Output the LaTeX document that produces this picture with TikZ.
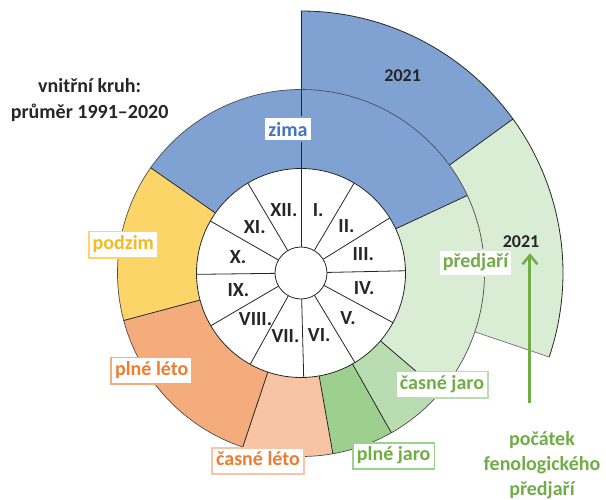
\documentclass[tikz,border=0pt]{standalone}
\usepackage{fontspec}
\setmainfont{Carlito}
\usepackage{tikz}
\usetikzlibrary{arrows.meta}
\definecolor{zimaBg}{HTML}{7FA2D3}
\definecolor{zimaText}{HTML}{4472C4}
\definecolor{podzimBg}{HTML}{FCD569}
\definecolor{podzimText}{HTML}{F7BA1E}
\definecolor{plneLetoBg}{HTML}{F4AC7C}
\definecolor{casneLetoBg}{HTML}{F8C5A4}
\definecolor{letoText}{HTML}{ED7D31}
\definecolor{plneJaroBg}{HTML}{9DCF8E}
\definecolor{casneJaroBg}{HTML}{B9DDB0}
\definecolor{predjariBg}{HTML}{D9ECD4}
\definecolor{jaroText}{HTML}{70AD47}
\tikzset{
  hranice/.style={draw=black!85, line width=0.8pt},
  obrys/.style={draw=black!70, line width=0.7pt},
  mesic/.style={font=\bfseries\fontsize{20}{24}\selectfont, text=black!85, inner sep=0pt},
  rok/.style={font=\bfseries\fontsize{18}{22}\selectfont, text=black!85},
  popis/.style 2 args={fill=white, draw=#1, text=#2, line width=1.8pt, font=\bfseries\fontsize{20}{24}\selectfont, inner xsep=4pt, inner ysep=4pt, text height=14pt, text depth=4.5pt},
  sipka/.style={-{Straight Barb[length=9pt,width=15pt,line width=2.5pt]}, line width=3pt, draw=jaroText},
}
\newcommand{\vysec}[5]{\fill[#1] (#2:#4pt) -- (#2:#5pt) arc[start angle=#2, end angle=#3, radius=#5pt] -- (#3:#4pt) arc[start angle=#3, end angle=#2, radius=#4pt] -- cycle;}

\begin{document}
\begin{tikzpicture}[x=1pt,y=1pt]
\useasboundingbox (-301,-226) rectangle (305,273);

% rok 2021
\vysec{zimaBg}{90}{36}{183.5}{262}
\vysec{predjariBg}{36}{-18.7}{183.5}{262}
\draw[hranice] (90:262pt) arc[start angle=90, end angle=-18.7, radius=262pt];
\draw[hranice] (36:183.5pt) -- (36:262pt);
\draw[obrys, draw=black!55] (-18.7:183.5pt) -- (-18.7:262pt);
\draw[hranice] (90:183.5pt) -- (90:262pt);

% prumer 1991-2020
\vysec{zimaBg}{145}{25}{104.5}{183.5}
\vysec{predjariBg}{25}{-40.5}{104.5}{183.5}
\vysec{casneJaroBg}{-40.5}{-60.5}{104.5}{183.5}
\vysec{plneJaroBg}{-60.5}{-80}{104.5}{183.5}
\vysec{casneLetoBg}{-80}{-108.5}{104.5}{183.5}
\vysec{plneLetoBg}{-108.5}{-165}{104.5}{183.5}
\vysec{podzimBg}{-165}{-215}{104.5}{183.5}
\draw[obrys] (0,0) circle[radius=183.5pt];
\foreach \a in {145,90,25,-40.5,-60.5,-80,-108.5,-165}
  \draw[hranice] (\a:104.5pt) -- (\a:183.5pt);

% mesice
\draw[hranice, fill=white] (0,0) circle[radius=104.5pt];
\foreach \a in {90,59.42,31.81,1.23,-28.36,-58.93,-88.52,-119.10,-149.67,-179.26,-209.84,-239.42}
  \draw[hranice] (\a:26pt) -- (\a:104.5pt);
\draw[hranice, fill=white] (0,0) circle[radius=26pt];
\foreach \m/\a [count=\i] in {I./74.71, II./45.62, III./16.52, IV./-13.57, V./-43.65, VI./-73.73, VII./-103.81, VIII./-134.39, IX./-164.47, X./-194.55, XI./-224.63, XII./-254.71}
  \node[mesic] (mes\i) at (\a:65pt) {\m};

% popisky
\node[popis={zimaBg}{zimaText}, text depth=0pt, inner ysep=5pt] (zima) at (-13,144) {zima};
\node[popis={predjariBg}{jaroText}] (predjari) at (174.5,10) {předjaří};
\node[popis={casneJaroBg}{jaroText}] (casnejaro) at (141,-111.7) {časné jaro};
\node[popis={plneJaroBg}{jaroText}] (plnejaro) at (92.7,-183) {plné jaro};
\node[popis={casneLetoBg}{letoText}] (casneleto) at (-43,-188) {časné léto};
\node[popis={plneLetoBg}{letoText}] (plneleto) at (-149.3,-97.8) {plné léto};
\node[popis={podzimBg}{podzimText}] (podzim) at (-177.7,28.3) {podzim};

\node[rok] (rok1) at (101.7,197.3) {2021};
\node[rok] (rok2) at (220,31.3) {2021};

\node[align=center, text=black!85, font=\bfseries\fontsize{20}{26}\selectfont] (legenda) at (-211.3,172.7) {vnitřní kruh:\\průměr 1991–2020};
\node[align=center, text=jaroText, font=\bfseries\fontsize{20}{25}\selectfont] (pocatek) at (241,-192) {počátek\\fenologického\\předjaří};

\coordinate (sipkaStart) at (229,-130.3);
\coordinate (sipkaHrot) at (229,19.7);
\draw[sipka] (sipkaStart) -- (sipkaHrot);
\end{tikzpicture}
\end{document}
